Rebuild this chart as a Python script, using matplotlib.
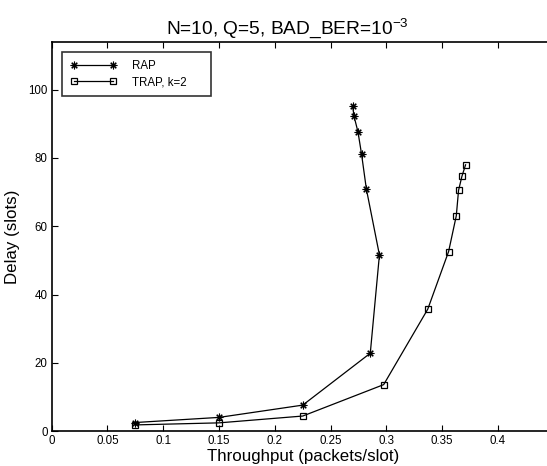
import matplotlib
matplotlib.use("Agg")
import matplotlib.pyplot as plt

plt.rcParams['font.family'] = ['Liberation Sans', 'DejaVu Sans']
plt.rcParams['mathtext.default'] = 'regular'

# data
rap_x = [0.075, 0.15, 0.225, 0.2855, 0.2937, 0.282, 0.2777, 0.2745, 0.2709, 0.2697]
rap_y = [2.5, 4.0, 7.6, 22.8, 51.6, 70.9, 81.1, 87.6, 92.3, 95.2]
trap_x = [0.075, 0.15, 0.225, 0.2975, 0.337, 0.3557, 0.3626, 0.3646, 0.3676, 0.3709]
trap_y = [1.8, 2.4, 4.4, 13.6, 35.7, 52.6, 63.1, 70.5, 74.6, 78.0]

x_ticks = [0, 0.05, 0.1, 0.15, 0.2, 0.25, 0.3, 0.35, 0.4]
x_labels = ['0', '0.05', '0.1', '0.15', '0.2', '0.25', '0.3', '0.35', '0.4']
y_ticks = [0, 20, 40, 60, 80, 100]

fig = plt.figure(figsize=(5.47, 4.66), dpi=100)
ax = fig.add_axes([0.0945, 0.075, 0.918, 0.835])

# matlab style '*' = 8 armed asterisk
ax.plot(rap_x, rap_y, color='black', lw=0.9, marker=(8, 2, 0), ms=5.5,
        mec='black', mew=0.8, label='RAP')
ax.plot(trap_x, trap_y, color='black', lw=0.9, marker='s', ms=4.5,
        mfc='none', mec='black', mew=0.9, label='TRAP, k=2')

ax.set_xlim(0, 0.45)
ax.set_ylim(0, 114)
ax.set_xticks(x_ticks)
ax.set_xticklabels(x_labels)
ax.set_yticks(y_ticks)
ax.tick_params(direction='in', length=4, width=0.8, labelsize=8.3,
               top=True, right=True, pad=3)
for s in ax.spines.values():
    s.set_linewidth(1.2)

ax.set_xlabel('Throughput (packets/slot)', fontsize=12.2, labelpad=1)
ax.set_ylabel('Delay (slots)', fontsize=12.2, labelpad=6)
ax.set_title('N=10, Q=5, BAD_BER=10$^{-3}$', fontsize=13.8, pad=6, x=0.469)

leg = ax.legend(loc='upper left', bbox_to_anchor=(0.0205, 0.0, 0.297, 0.974),
                mode='expand', borderaxespad=0, fontsize=8.3, frameon=True,
                fancybox=False, edgecolor='black', handlelength=4.0,
                handletextpad=1.4, borderpad=0.7, labelspacing=0.35,
                numpoints=2)
leg.get_frame().set_linewidth(1.2)

fig.savefig('out.png', dpi=100)
